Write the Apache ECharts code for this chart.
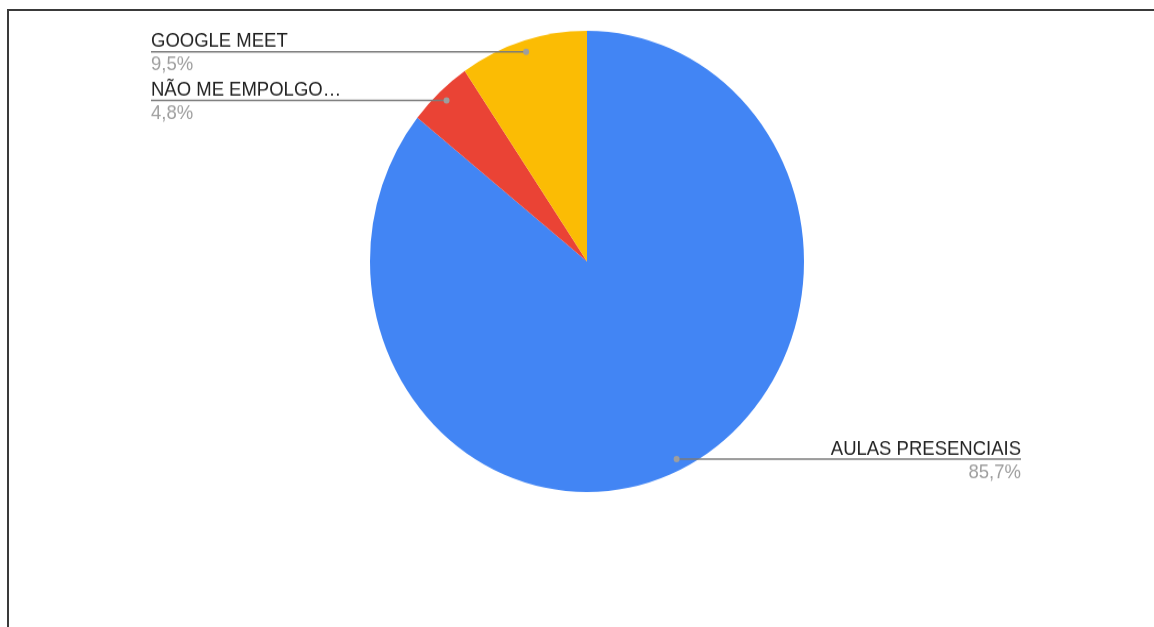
<!DOCTYPE html>
<html>
<head>
<meta charset="utf-8">
<script src="https://cdn.jsdelivr.net/npm/echarts@6/dist/echarts.min.js"></script>
<style>
  html, body { margin: 0; padding: 0; background: #fff; overflow: hidden; }
  #moldura {
    position: absolute; left: 7px; top: 9px; width: 2000px; height: 2000px;
    border-left: 2px solid #3a3a3a; border-top: 2px solid #3a3a3a;
  }
  /* a imagem original esta um pouco esticada na vertical */
  #grafico {
    position: absolute; left: 0; top: 0; width: 1154px; height: 590px;
    transform: scaleY(1.0627); transform-origin: 0 0;
  }
</style>
</head>
<body>
<div id="moldura"></div>
<div id="grafico"></div>
<script>
var categorias = ["AULAS PRESENCIAIS", "NÃO ME EMPOLGO…", "GOOGLE MEET"];
var respostas = [18, 1, 2];
var cores = ["#4285f4", "#ea4335", "#fbbc04"];

var fonte = "'Liberation Sans', Arial, sans-serif";
var bordaEsq = 151, bordaDir = 1021;
var chart = echarts.init(document.getElementById("grafico"));

// ponto (bolinha) dentro da fatia, no angulo medio, um pouco antes da borda
function pontoDoRotulo(idx) {
  var lay = chart.getModel().getSeriesByIndex(0).getData().getItemLayout(idx);
  var meio = (lay.startAngle + lay.endAngle) / 2;
  var r = lay.r - 10.5;
  return [lay.cx + Math.cos(meio) * r, lay.cy + Math.sin(meio) * r];
}

var option = {
  animation: false,
  color: cores,
  series: [
    {
      type: "pie",
      center: [587, 246],
      radius: 217,
      startAngle: 90,
      clockwise: true,
      data: categorias.map(function (c, i) {
        return { name: c, value: respostas[i] };
      }),
      emphasis: { disabled: true },
      itemStyle: { borderWidth: 0 },
      label: {
        show: true,
        formatter: function (p) {
          return "{n|" + p.name + "}\n{p|" + p.percent.toFixed(1).replace(".", ",") + "%}";
        },
        rich: {
          n: { fontFamily: fonte, fontSize: 18.5, color: "#222", lineHeight: 21 },
          p: { fontFamily: fonte, fontSize: 18.5, color: "#9e9e9e", lineHeight: 23 }
        }
      },
      labelLine: { show: false },
      labelLayout: function (p) {
        var pt = pontoDoRotulo(p.dataIndex);
        var esq = pt[0] < 587;
        return {
          x: esq ? bordaEsq : bordaDir,
          y: pt[1] - 20,
          align: esq ? "left" : "right",
          verticalAlign: "top"
        };
      }
    }
  ]
};

chart.setOption(option);

// linhas e bolinhas no estilo do Google Sheets
var guias = [];
categorias.forEach(function (c, i) {
  var pt = pontoDoRotulo(i);
  var xFim = pt[0] < 587 ? bordaEsq : bordaDir;
  guias.push({
    type: "line", z: 10, silent: true,
    shape: { x1: pt[0], y1: pt[1], x2: xFim, y2: pt[1] },
    style: { stroke: "#7b7b7b", lineWidth: 1.5 }
  });
  guias.push({
    type: "circle", z: 11, silent: true,
    shape: { cx: pt[0], cy: pt[1], r: 3 },
    style: { fill: "#9e9e9e" }
  });
});
chart.setOption({ graphic: { elements: guias } });
</script>
</body>
</html>
